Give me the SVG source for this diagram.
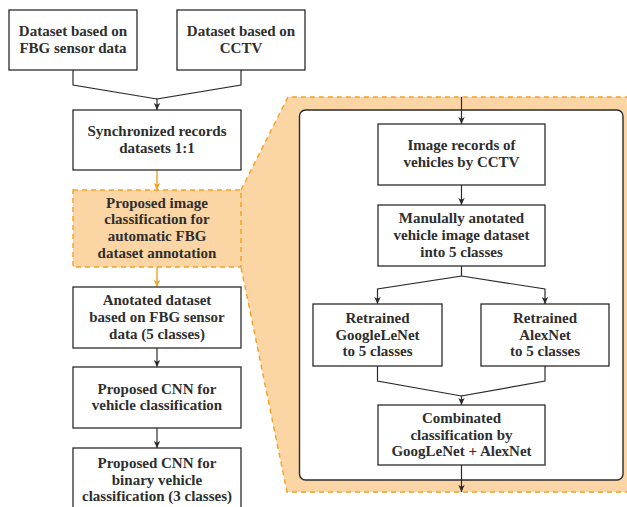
<svg xmlns="http://www.w3.org/2000/svg" width="627" height="507" viewBox="0 0 627 507">
  <defs>
    <style>
      .box { fill: #ffffff; stroke: #2b2b2b; stroke-width: 1.3; }
      .hl { fill: #fcd5a4; stroke: #f5a023; stroke-width: 1.4; stroke-dasharray: 5 4; }
      .hl-edge { fill: none; stroke: #f5a023; stroke-width: 1.4; stroke-dasharray: 5 4; }
      .frame { fill: #ffffff; stroke: #2b2b2b; stroke-width: 1.4; }
      .lbl { font-family: "Liberation Serif", "DejaVu Serif", serif; font-weight: bold; font-size: 15px; fill: #2e2e2e; text-anchor: middle; }
      .ln { fill: none; stroke: #2b2b2b; stroke-width: 1.2; }
      .ln-o { fill: none; stroke: #f5a023; stroke-width: 1.4; }
    </style>
    <marker id="arr" viewBox="0 0 8 8" refX="7" refY="4" markerWidth="8" markerHeight="8" markerUnits="userSpaceOnUse" orient="auto">
      <path d="M0,0.8 L7,4 L0,7.2 L1.8,4 z" fill="#2b2b2b"/>
    </marker>
    <marker id="arr-o" viewBox="0 0 8 8" refX="7" refY="4" markerWidth="8" markerHeight="8" markerUnits="userSpaceOnUse" orient="auto">
      <path d="M0,0.8 L7,4 L0,7.2 L1.8,4 z" fill="#f5a023"/>
    </marker>
  </defs>

  <!-- highlighted zoom-out region behind the annotation step -->
  <g id="zoom-region">
    <polygon points="73,190 241,190 288,97 630,97 630,492 287,492 241,267 73,267" fill="#fcd5a4" stroke="none"/>
    <path class="hl-edge" d="M241,190 L288,97 L630,97 M630,492 L287,492 L241,267"/>
    <rect class="frame" x="299.5" y="110" width="323.5" height="370" rx="6"/>
  </g>

  <!-- connectors -->
  <g id="connectors">
    <path class="ln" d="M73,70 V85 L157,99"/>
    <path class="ln" d="M241,70 V85 L157,99 V110" marker-end="url(#arr)"/>
    <path class="ln-o" d="M157,170 V190" marker-end="url(#arr-o)"/>
    <path class="ln-o" d="M157,267 V287" marker-end="url(#arr-o)"/>
    <path class="ln" d="M157,348 V367" marker-end="url(#arr)"/>
    <path class="ln" d="M157,428 V448" marker-end="url(#arr)"/>

    <path class="ln" d="M461.5,97 V124" marker-end="url(#arr)"/>
    <path class="ln" d="M461.5,185 V205" marker-end="url(#arr)"/>
    <path class="ln" d="M461.5,266 V276 L377.5,289 V304" marker-end="url(#arr)"/>
    <path class="ln" d="M461.5,276 L545,289 V304" marker-end="url(#arr)"/>
    <path class="ln" d="M377.5,366 V381 L461.5,396"/>
    <path class="ln" d="M545,366 V381 L461.5,396 V405" marker-end="url(#arr)"/>
    <path class="ln" d="M461.5,465 V492" marker-end="url(#arr)"/>
  </g>

  <!-- main pipeline -->
  <g id="fbg-dataset">
    <rect class="box" x="9" y="10" width="128" height="60"/>
    <text class="lbl" x="73" y="36.2">Dataset based on</text>
    <text class="lbl" x="73" y="52.9">FBG sensor data</text>
  </g>
  <g id="cctv-dataset">
    <rect class="box" x="177" y="10" width="128" height="60"/>
    <text class="lbl" x="241" y="36.2">Dataset based on</text>
    <text class="lbl" x="241" y="52.9">CCTV</text>
  </g>
  <g id="synchronized">
    <rect class="box" x="73" y="110" width="168" height="60"/>
    <text class="lbl" x="157" y="136.2">Synchronized records</text>
    <text class="lbl" x="157" y="152.9">datasets 1:1</text>
  </g>
  <g id="annotation-step">
    <rect class="hl" x="73" y="190" width="168" height="77"/>
    <text class="lbl" x="157" y="207.5">Proposed image</text>
    <text class="lbl" x="157" y="224.2">classification for</text>
    <text class="lbl" x="157" y="240.9">automatic FBG</text>
    <text class="lbl" x="157" y="257.6">dataset annotation</text>
  </g>
  <g id="annotated-dataset">
    <rect class="box" x="73" y="287" width="168" height="61"/>
    <text class="lbl" x="157" y="305.3">Anotated dataset</text>
    <text class="lbl" x="157" y="322">based on FBG sensor</text>
    <text class="lbl" x="157" y="338.7">data (5 classes)</text>
  </g>
  <g id="cnn-vehicle">
    <rect class="box" x="73" y="367" width="168" height="61"/>
    <text class="lbl" x="157" y="393.7">Proposed CNN for</text>
    <text class="lbl" x="157" y="410.4">vehicle classification</text>
  </g>
  <g id="cnn-binary">
    <rect class="box" x="73" y="448" width="168" height="70"/>
    <text class="lbl" x="157" y="468">Proposed CNN for</text>
    <text class="lbl" x="157" y="484.7">binary vehicle</text>
    <text class="lbl" x="157" y="501.4">classification (3 classes)</text>
  </g>

  <!-- annotation detail -->
  <g id="cctv-records">
    <rect class="box" x="378" y="124" width="167" height="61"/>
    <text class="lbl" x="461.5" y="150.2">Image records of</text>
    <text class="lbl" x="461.5" y="166.9">vehicles by CCTV</text>
  </g>
  <g id="manual-annotation">
    <rect class="box" x="378" y="205" width="167" height="61"/>
    <text class="lbl" x="461.5" y="223.3">Manulally anotated</text>
    <text class="lbl" x="461.5" y="240">vehicle image dataset</text>
    <text class="lbl" x="461.5" y="256.7">into 5 classes</text>
  </g>
  <g id="googlenet">
    <rect class="box" x="313" y="304" width="129" height="62"/>
    <text class="lbl" x="377.5" y="322.8">Retrained</text>
    <text class="lbl" x="377.5" y="339.5">GoogleLeNet</text>
    <text class="lbl" x="377.5" y="356.2">to 5 classes</text>
  </g>
  <g id="alexnet">
    <rect class="box" x="481" y="304" width="128" height="62"/>
    <text class="lbl" x="545" y="322.8">Retrained</text>
    <text class="lbl" x="545" y="339.5">AlexNet</text>
    <text class="lbl" x="545" y="356.2">to 5 classes</text>
  </g>
  <g id="combined">
    <rect class="box" x="378" y="405" width="167" height="60"/>
    <text class="lbl" x="461.5" y="422.8">Combinated</text>
    <text class="lbl" x="461.5" y="439.5">classification by</text>
    <text class="lbl" x="461.5" y="456.2">GoogLeNet + AlexNet</text>
  </g>
</svg>
